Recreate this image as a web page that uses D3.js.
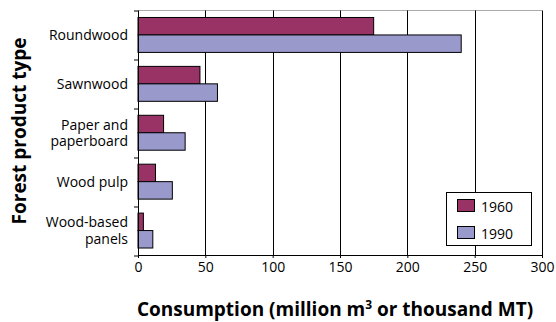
<!DOCTYPE html>
<html>
<head>
<meta charset="utf-8">
<script src="https://cdn.jsdelivr.net/npm/d3@7"></script>
<style>
  body { margin: 0; background: #fff; }
  svg { display: block; font-family: "Open Sans", sans-serif; }
</style>
</head>
<body>
<svg id="chart" width="556" height="322"></svg>
<script>
// Forest product consumption by type, 1960 vs 1990
const categories = ["Roundwood", "Sawnwood", "Paper and\npaperboard", "Wood pulp", "Wood-based\npanels"];
const seriesNames = ["1960", "1990"];
const values1960 = [175, 46, 19, 13, 4];
const values1990 = [240, 59, 35, 25.5, 11];
const xTicks = [0, 50, 100, 150, 200, 250, 300];
const colors = ["#993366", "#9999CC"];

const svg = d3.select("#chart");
const margin = { left: 138, top: 10.5 };
const plotW = 542 - margin.left;
const plotH = 255 - margin.top;
const labelFont = 14;

const g = svg.append("g").attr("transform", `translate(${margin.left},${margin.top})`);

const x = d3.scaleLinear().domain([0, 300]).range([0, plotW]);
const y = d3.scaleBand().domain(categories).range([0, plotH]).paddingInner(0).paddingOuter(0);
const inner = d3.scaleBand().domain(seriesNames).range([0, y.bandwidth()]).paddingOuter(0.4).paddingInner(0);

// plot frame top edge
g.append("line").attr("x1", 0).attr("x2", plotW).attr("y1", 0).attr("y2", 0)
  .attr("stroke", "#aaa").attr("stroke-width", 1);

// vertical gridlines
g.selectAll("line.grid").data(xTicks.slice(1)).join("line")
  .attr("class", "grid")
  .attr("x1", d => Math.round(x(d)) + 0.5).attr("x2", d => Math.round(x(d)) + 0.5)
  .attr("y1", 0).attr("y2", plotH)
  .attr("stroke", "#000").attr("stroke-width", 1);

// bars
const series = [values1960, values1990];
series.forEach((vals, si) => {
  g.selectAll(`rect.s${si}`).data(categories).join("rect")
    .attr("class", `s${si}`)
    .attr("x", 0)
    .attr("y", d => y(d) + inner(seriesNames[si]))
    .attr("width", (d, i) => x(vals[i]))
    .attr("height", inner.bandwidth())
    .attr("fill", colors[si])
    .attr("stroke", "#000").attr("stroke-width", 1);
});

// x axis
const xAxis = g.append("g").attr("transform", `translate(0,${plotH})`)
  .call(d3.axisBottom(x).tickValues(xTicks).tickSizeInner(3).tickSizeOuter(0).tickPadding(4));
xAxis.select(".domain").attr("stroke", "#000");
xAxis.selectAll("text").attr("font-size", labelFont).attr("fill", "#000")
  .style("font-family", "'Open Sans', sans-serif");

// y axis line and band boundary ticks
g.append("line").attr("x1", 0.5).attr("x2", 0.5).attr("y1", 0).attr("y2", plotH).attr("stroke", "#000");
const bounds = categories.map(c => y(c)).concat([plotH]);
g.selectAll("line.ytick").data(bounds).join("line")
  .attr("class", "ytick")
  .attr("x1", -4).attr("x2", 0)
  .attr("y1", d => Math.round(d) + 0.5).attr("y2", d => Math.round(d) + 0.5)
  .attr("stroke", "#000");

// category labels
categories.forEach(c => {
  const lines = c.split("\n");
  const cy = y(c) + y.bandwidth() / 2;
  const lh = 16.5;
  const t = g.append("text").attr("text-anchor", "end").attr("font-size", labelFont).attr("fill", "#000");
  lines.forEach((ln, i) => {
    t.append("tspan").attr("x", -10)
      .attr("y", cy + (i - (lines.length - 1) / 2) * lh + 5)
      .text(ln);
  });
});

// axis titles
svg.append("text")
  .attr("x", 335).attr("y", 316)
  .attr("text-anchor", "middle").attr("font-size", 19).attr("font-weight", "bold")
  .html('Consumption (million m<tspan dy="-7" font-size="12">3</tspan><tspan dy="7"> or thousand MT)</tspan>');

svg.append("text")
  .attr("transform", `translate(26,131) rotate(-90)`)
  .attr("text-anchor", "middle").attr("font-size", 19).attr("font-weight", "bold")
  .text("Forest product type");

// legend
const lg = svg.append("g").attr("transform", "translate(446,192)");
lg.append("rect").attr("x", 0.5).attr("y", 0.5).attr("width", 85).attr("height", 53)
  .attr("fill", "#fff").attr("stroke", "#000");
seriesNames.forEach((s, i) => {
  lg.append("rect").attr("x", 11.5).attr("y", 7.5 + i * 27).attr("width", 17).attr("height", 12)
    .attr("fill", colors[i]).attr("stroke", "#000");
  lg.append("text").attr("x", 35).attr("y", 20 + i * 27).attr("font-size", labelFont).text(s);
});
</script>
</body>
</html>
